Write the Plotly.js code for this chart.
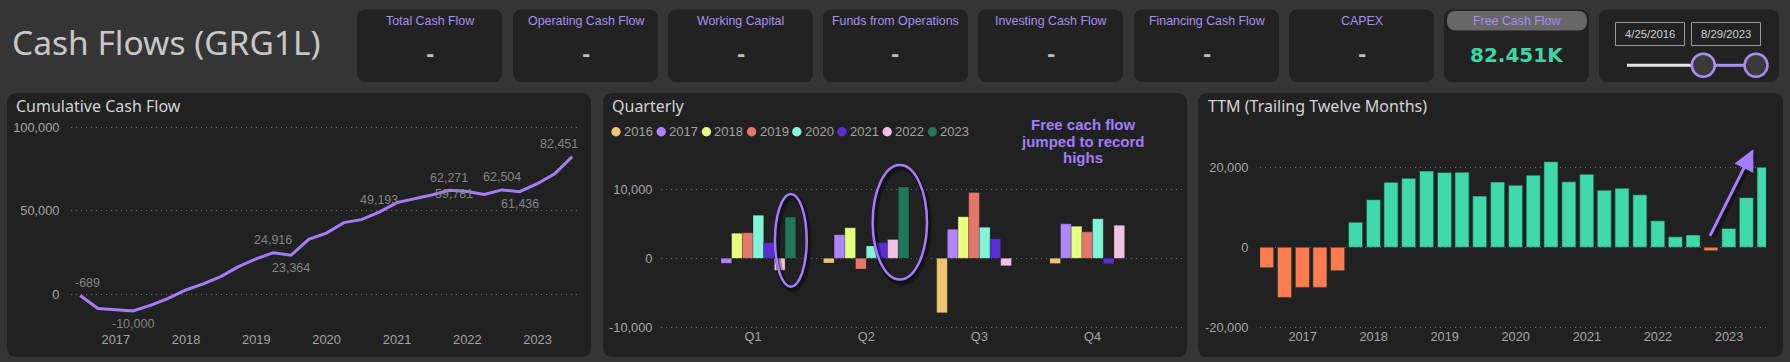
<!DOCTYPE html>
<html>
<head>
<meta charset="utf-8">
<script src="https://cdn.plot.ly/plotly-3.0.1.min.js"></script>
<style>
html,body{margin:0;padding:0;background:#353535;overflow:hidden;}
#chart{width:1790px;height:362px;}
</style>
</head>
<body>
<div id="chart"></div>
<script>
// ---------------- DATA ----------------
const pageTitle = 'Cash Flows (GRG1L)';
const cardTitles = ['Total Cash Flow','Operating Cash Flow','Working Capital','Funds from Operations','Investing Cash Flow','Financing Cash Flow','CAPEX','Free Cash Flow'];
const cardValues = ['-','-','-','-','-','-','-','82.451K'];
const sliderDates = ['4/25/2016','8/29/2023'];

// quarter-end dates, Q2 2016 .. Q2 2023
const quarterDates = ['2016-06-30','2016-09-30','2016-12-31',
  '2017-03-31','2017-06-30','2017-09-30','2017-12-31',
  '2018-03-31','2018-06-30','2018-09-30','2018-12-31',
  '2019-03-31','2019-06-30','2019-09-30','2019-12-31',
  '2020-03-31','2020-06-30','2020-09-30','2020-12-31',
  '2021-03-31','2021-06-30','2021-09-30','2021-12-31',
  '2022-03-31','2022-06-30','2022-09-30','2022-12-31',
  '2023-03-31','2023-06-30'];
const cumulativeFCF = [-689,-8539,-9299,
  -10000,-6600,-2400,2580,
  6200,10600,16600,21220,
  24916,23364,32864,36684,
  42914,44704,49193,54893,
  57163,59433,62271,61501,
  59781,62504,61436,66216,
  72166,82451];
const ttmFCF = [-5080,-12500,-10000,
  -10000,-5830,6250,11879,
  16200,17200,19000,18640,
  18716,12764,16264,15464,
  17998,21340,16329,18209,
  14249,14729,13078,6608,
  2618,3071,-835,4715,
  12385,19947];
// indices of cumulative points that carry a data label
const labeledPoints = [0,3,11,12,17,21,23,24,25,28];

const quarters = ['Q1','Q2','Q3','Q4'];
const years = ['2016','2017','2018','2019','2020','2021','2022','2023'];
const fcf2016 = [null,-689,-7850,-760];
const fcf2017 = [-701,3400,4200,4980];
const fcf2018 = [3620,4400,6000,4620];
const fcf2019 = [3696,-1552,9500,3820];
const fcf2020 = [6230,1790,4489,5700];
const fcf2021 = [2270,2270,2838,-770];
const fcf2022 = [-1720,2723,-1068,4780];
const fcf2023 = [5950,10285,null,null];
const quarterlyByYear = [fcf2016,fcf2017,fcf2018,fcf2019,fcf2020,fcf2021,fcf2022,fcf2023];
const yearColors = ['#EEC371','#B084FA','#E6FF80','#E5776D','#82F5D8','#5A2FD2','#F0C1E2','#22775A'];

const yearTickVals = ['2017-01-01','2018-01-01','2019-01-01','2020-01-01','2021-01-01','2022-01-01','2023-01-01'];
const yearTickText = ['2017','2018','2019','2020','2021','2022','2023'];
const cumTickVals = [0,50000,100000];
const cumTickText = ['0','50,000','100,000'];
const qTickVals = [-10000,0,10000];
const qTickText = ['-10,000','0','10,000'];
const ttmTickVals = [-20000,0,20000];
const ttmTickText = ['-20,000','0','20,000'];
const noteLines = ['Free cach flow','jumped to record','highs'];

// ---------------- STYLE / LAYOUT HELPERS ----------------
const W = 1790, H = 362;
const PX = x => x / W;
const PY = y => 1 - y / H;
const NARROW = '"Liberation Sans",Arial,sans-serif';
const SEGOE = '"Segoe UI","Noto Sans","Open Sans",sans-serif';
const LAV = '#A78FF0';
const PANEL = '#212121';

function rrect(x0,y0,x1,y1,r){
  return 'M'+PX(x0+r)+','+PY(y0)+' L'+PX(x1-r)+','+PY(y0)+
    ' Q'+PX(x1)+','+PY(y0)+' '+PX(x1)+','+PY(y0+r)+
    ' L'+PX(x1)+','+PY(y1-r)+
    ' Q'+PX(x1)+','+PY(y1)+' '+PX(x1-r)+','+PY(y1)+
    ' L'+PX(x0+r)+','+PY(y1)+
    ' Q'+PX(x0)+','+PY(y1)+' '+PX(x0)+','+PY(y1-r)+
    ' L'+PX(x0)+','+PY(y0+r)+
    ' Q'+PX(x0)+','+PY(y0)+' '+PX(x0+r)+','+PY(y0)+' Z';
}
function boxShape(x0,y0,x1,y1,r,fill,line){
  return {type:'path', xref:'paper', yref:'paper', path:rrect(x0,y0,x1,y1,r),
    fillcolor:fill, line:{width: line?1:0, color: line||'rgba(0,0,0,0)'}, layer:'below'};
}
function pxLine(x0,y0,x1,y1,color,width){
  return {type:'line', xref:'paper', yref:'paper', x0:PX(x0), y0:PY(y0), x1:PX(x1), y1:PY(y1),
    line:{color:color,width:width}, layer:'above'};
}
function pxEllipse(x0,y0,x1,y1,color,width,fill){
  return {type:'circle', xref:'paper', yref:'paper', x0:PX(x0), y0:PY(y1), x1:PX(x1), y1:PY(y0),
    line:{color:color,width:width}, fillcolor: fill||'rgba(0,0,0,0)', layer:'above'};
}
function txt(x,y,text,size,color,family,xanchor,weight){
  const f = {size:size,color:color,family:family};
  if(weight) f.weight = weight;
  return {xref:'paper', yref:'paper', x:PX(x), y:PY(y), text:text, showarrow:false,
    xanchor:xanchor||'center', yanchor:'middle', font:f};
}

const shapes = [];
const annotations = [];

// panels
shapes.push(boxShape(7,93,591,357,10,PANEL));
shapes.push(boxShape(603,93,1187,357,10,PANEL));
shapes.push(boxShape(1198,93,1783,357,10,PANEL));

// KPI cards
const cardX0 = [357,513,668,823,978,1134,1289,1444];
const cardW = 145;
cardTitles.forEach((t,i)=>{
  const x0 = cardX0[i], x1 = x0+cardW, cx = (x0+x1)/2;
  shapes.push(boxShape(x0,9.5,x1,82,9,'#222222'));
  const isFCF = i === cardTitles.length-1;
  if(isFCF) shapes.push(boxShape(x0+3,11,x1-2,30.5,9,'#676767'));
  annotations.push(txt(cx,20.5,t,12.4,LAV,NARROW));
  if(isFCF){
    annotations.push(txt(cx,55,cardValues[i],20,'#3FD6A6','"DejaVu Sans",Verdana,sans-serif','center','bold'));
  } else {
    annotations.push(txt(cx,54,cardValues[i],20,'#BDBDBD','"DejaVu Sans",sans-serif','center','bold'));
  }
});

// date slicer
shapes.push(boxShape(1599,9.5,1779,82,9,'#222222'));
shapes.push({type:'rect',xref:'paper',yref:'paper',x0:PX(1615.5),x1:PX(1684.5),y0:PY(45.5),y1:PY(22.5),line:{color:'#9C9C9C',width:1},layer:'above'});
shapes.push({type:'rect',xref:'paper',yref:'paper',x0:PX(1691.5),x1:PX(1760.5),y0:PY(45.5),y1:PY(22.5),line:{color:'#9C9C9C',width:1},layer:'above'});
annotations.push(txt(1650,34,sliderDates[0],11.3,'#D0D0D0',NARROW));
annotations.push(txt(1726,34,sliderDates[1],11.3,'#D0D0D0',NARROW));
shapes.push(pxLine(1627,65.3,1692,65.3,'#E6E6E6',3));
shapes.push(pxLine(1714,65.3,1745,65.3,LAV,3));
shapes.push(pxEllipse(1691.8,53.8,1714.8,76.8,'#A88DF2',2.5,'#3A3A3A'));
shapes.push(pxEllipse(1744.5,53.8,1767.5,76.8,'#A88DF2',2.5,'#3A3A3A'));

// titles
annotations.push(txt(10,42,pageTitle,33.5,'#C8C8C8',SEGOE,'left'));
annotations.push(txt(14,106,'Cumulative Cash Flow',16,'#D4D4D4',SEGOE,'left'));
annotations.push(txt(610,106,'Quarterly',16,'#D4D4D4',SEGOE,'left'));
annotations.push(txt(1206,106,'TTM (Trailing Twelve Months)',16,'#D4D4D4',SEGOE,'left'));

// quarterly legend
years.forEach((y,i)=>{
  const cx = 616 + i*45.2;
  shapes.push(pxEllipse(cx-4.7,127,cx+4.7,136.4,yearColors[i],0,yearColors[i]));
  annotations.push(txt(cx+6,131.5,y,13,'#A3A3A3',NARROW,'left'));
});

// note text
noteLines.forEach((l,i)=>{
  annotations.push(txt(1083,124.5+i*16.7,l,15,'#A07DFA',NARROW,'center','bold'));
});

// highlight ellipses (with soft shadow)
[[775,194,806.7,286.7],[872.7,165,927,279.5]].forEach(e=>{
  shapes.push(pxEllipse(e[0]+2,e[1]+3,e[2]+2,e[3]+3,'rgba(0,0,0,0.3)',6));
  shapes.push(pxEllipse(e[0]+1,e[1]+2,e[2]+1,e[3]+2,'rgba(10,10,10,0.4)',4));
  shapes.push(pxEllipse(e[0],e[1],e[2],e[3],'#A47CFF',2.5));
});

// TTM arrow (with shadow)
annotations.push({xref:'paper',yref:'paper',x:PX(1753),y:PY(155),ax:-41,ay:84,axref:'pixel',ayref:'pixel',
  text:'',showarrow:true,arrowhead:0,arrowwidth:6,arrowcolor:'rgba(0,0,0,0.35)',standoff:0,startstandoff:0});
annotations.push({xref:'paper',yref:'paper',x:PX(1753.3),y:PY(149.3),ax:-44,ay:88,axref:'pixel',ayref:'pixel',
  text:'',showarrow:true,arrowhead:2,arrowsize:1.4,arrowwidth:3,arrowcolor:'#A77DFF',standoff:0,startstandoff:0});

// cumulative data labels
const labelPlacement = {0:[7,12.5],3:[0,-12.5],11:[0,12.5],12:[0,-12.5],17:[0,12.5],21:[0,12.5],23:[-30,0],24:[0,12.5],25:[0,-12.5],28:[-13,12.5]};
labeledPoints.forEach(i=>{
  const p = labelPlacement[i];
  annotations.push({xref:'x',yref:'y',x:quarterDates[i],y:cumulativeFCF[i],
    text:cumulativeFCF[i].toLocaleString('en-US'),showarrow:false,xshift:p[0],yshift:p[1],
    xanchor:'center',yanchor:'middle',font:{size:12.5,color:'#858585',family:NARROW}});
});

// ---------------- TRACES ----------------
const traces = [];
traces.push({type:'scatter',mode:'lines',x:quarterDates,y:cumulativeFCF,xaxis:'x',yaxis:'y',
  line:{color:'#A57CF4',width:3},hoverinfo:'skip',showlegend:false,cliponaxis:false});
quarterlyByYear.forEach((vals,i)=>{
  traces.push({type:'bar',x:quarters,y:vals,name:years[i],xaxis:'x2',yaxis:'y2',
    marker:{color:yearColors[i],line:{color:'rgba(0,0,0,0.25)',width:0.8}},hoverinfo:'skip',showlegend:false});
});
traces.push({type:'bar',x:quarterDates,y:ttmFCF,xaxis:'x3',yaxis:'y3',width:72*86400000,
  marker:{color:ttmFCF.map(v=>v<0?'#FF7B50':'#40D9A9'),line:{color:'rgba(20,60,45,0.55)',width:1}},
  hoverinfo:'skip',showlegend:false});

// ---------------- AXES ----------------
const tickFont = {size:12.8,color:'#A5A5A5',family:NARROW};
const gridStyle = {showgrid:true,gridcolor:'#6A6A6A',gridwidth:1,griddash:'1px,4px',zeroline:false,showline:false};
const xCommon = {showgrid:false,zeroline:false,showline:false,ticks:'outside',tickcolor:'rgba(0,0,0,0)',tickfont:tickFont,fixedrange:true};
const yCommon = Object.assign({ticks:'outside',tickcolor:'rgba(0,0,0,0)',tickfont:tickFont,fixedrange:true},gridStyle);

const layout = {
  width:W,height:H,margin:{l:0,r:0,t:0,b:0,pad:0},
  paper_bgcolor:'#353535',plot_bgcolor:'rgba(0,0,0,0)',
  showlegend:false,barmode:'group',bargap:0.245,bargroupgap:0,
  font:{family:NARROW,color:'#A5A5A5'},
  xaxis:Object.assign({},xCommon,{domain:[PX(71),PX(577)],type:'date',range:['2016-05-13','2023-07-25'],
    tickmode:'array',tickvals:yearTickVals,ticktext:yearTickText,ticklen:8,anchor:'y'}),
  yaxis:Object.assign({},yCommon,{domain:[PY(319.35),PY(124.8)],range:[-15000,101500],
    tickmode:'array',tickvals:cumTickVals,ticktext:cumTickText,ticklen:8,anchor:'x'}),
  xaxis2:Object.assign({},xCommon,{domain:[PX(661),PX(1182)],type:'category',range:[-0.813,3.79],ticklen:0,ticks:'',ticklabelstandoff:-2,anchor:'y2'}),
  yaxis2:Object.assign({},yCommon,{domain:[PY(329.6),PY(161.4)],range:[-10300,14000],
    tickmode:'array',tickvals:qTickVals,ticktext:qTickText,ticklen:5,anchor:'x2'}),
  xaxis3:Object.assign({},xCommon,{domain:[PX(1260),PX(1766)],type:'date',range:['2016-05-27','2023-07-10'],
    tickmode:'array',tickvals:yearTickVals,ticktext:yearTickText,ticklen:0,ticks:'',ticklabelstandoff:-4,anchor:'y3'}),
  yaxis3:Object.assign({},yCommon,{domain:[PY(331.5),PY(127)],range:[-21000,30000],
    tickmode:'array',tickvals:ttmTickVals,ticktext:ttmTickText,ticklen:8,anchor:'x3'}),
  shapes:shapes,
  annotations:annotations
};

Plotly.newPlot('chart',traces,layout,{staticPlot:true,displayModeBar:false});
</script>
</body>
</html>
